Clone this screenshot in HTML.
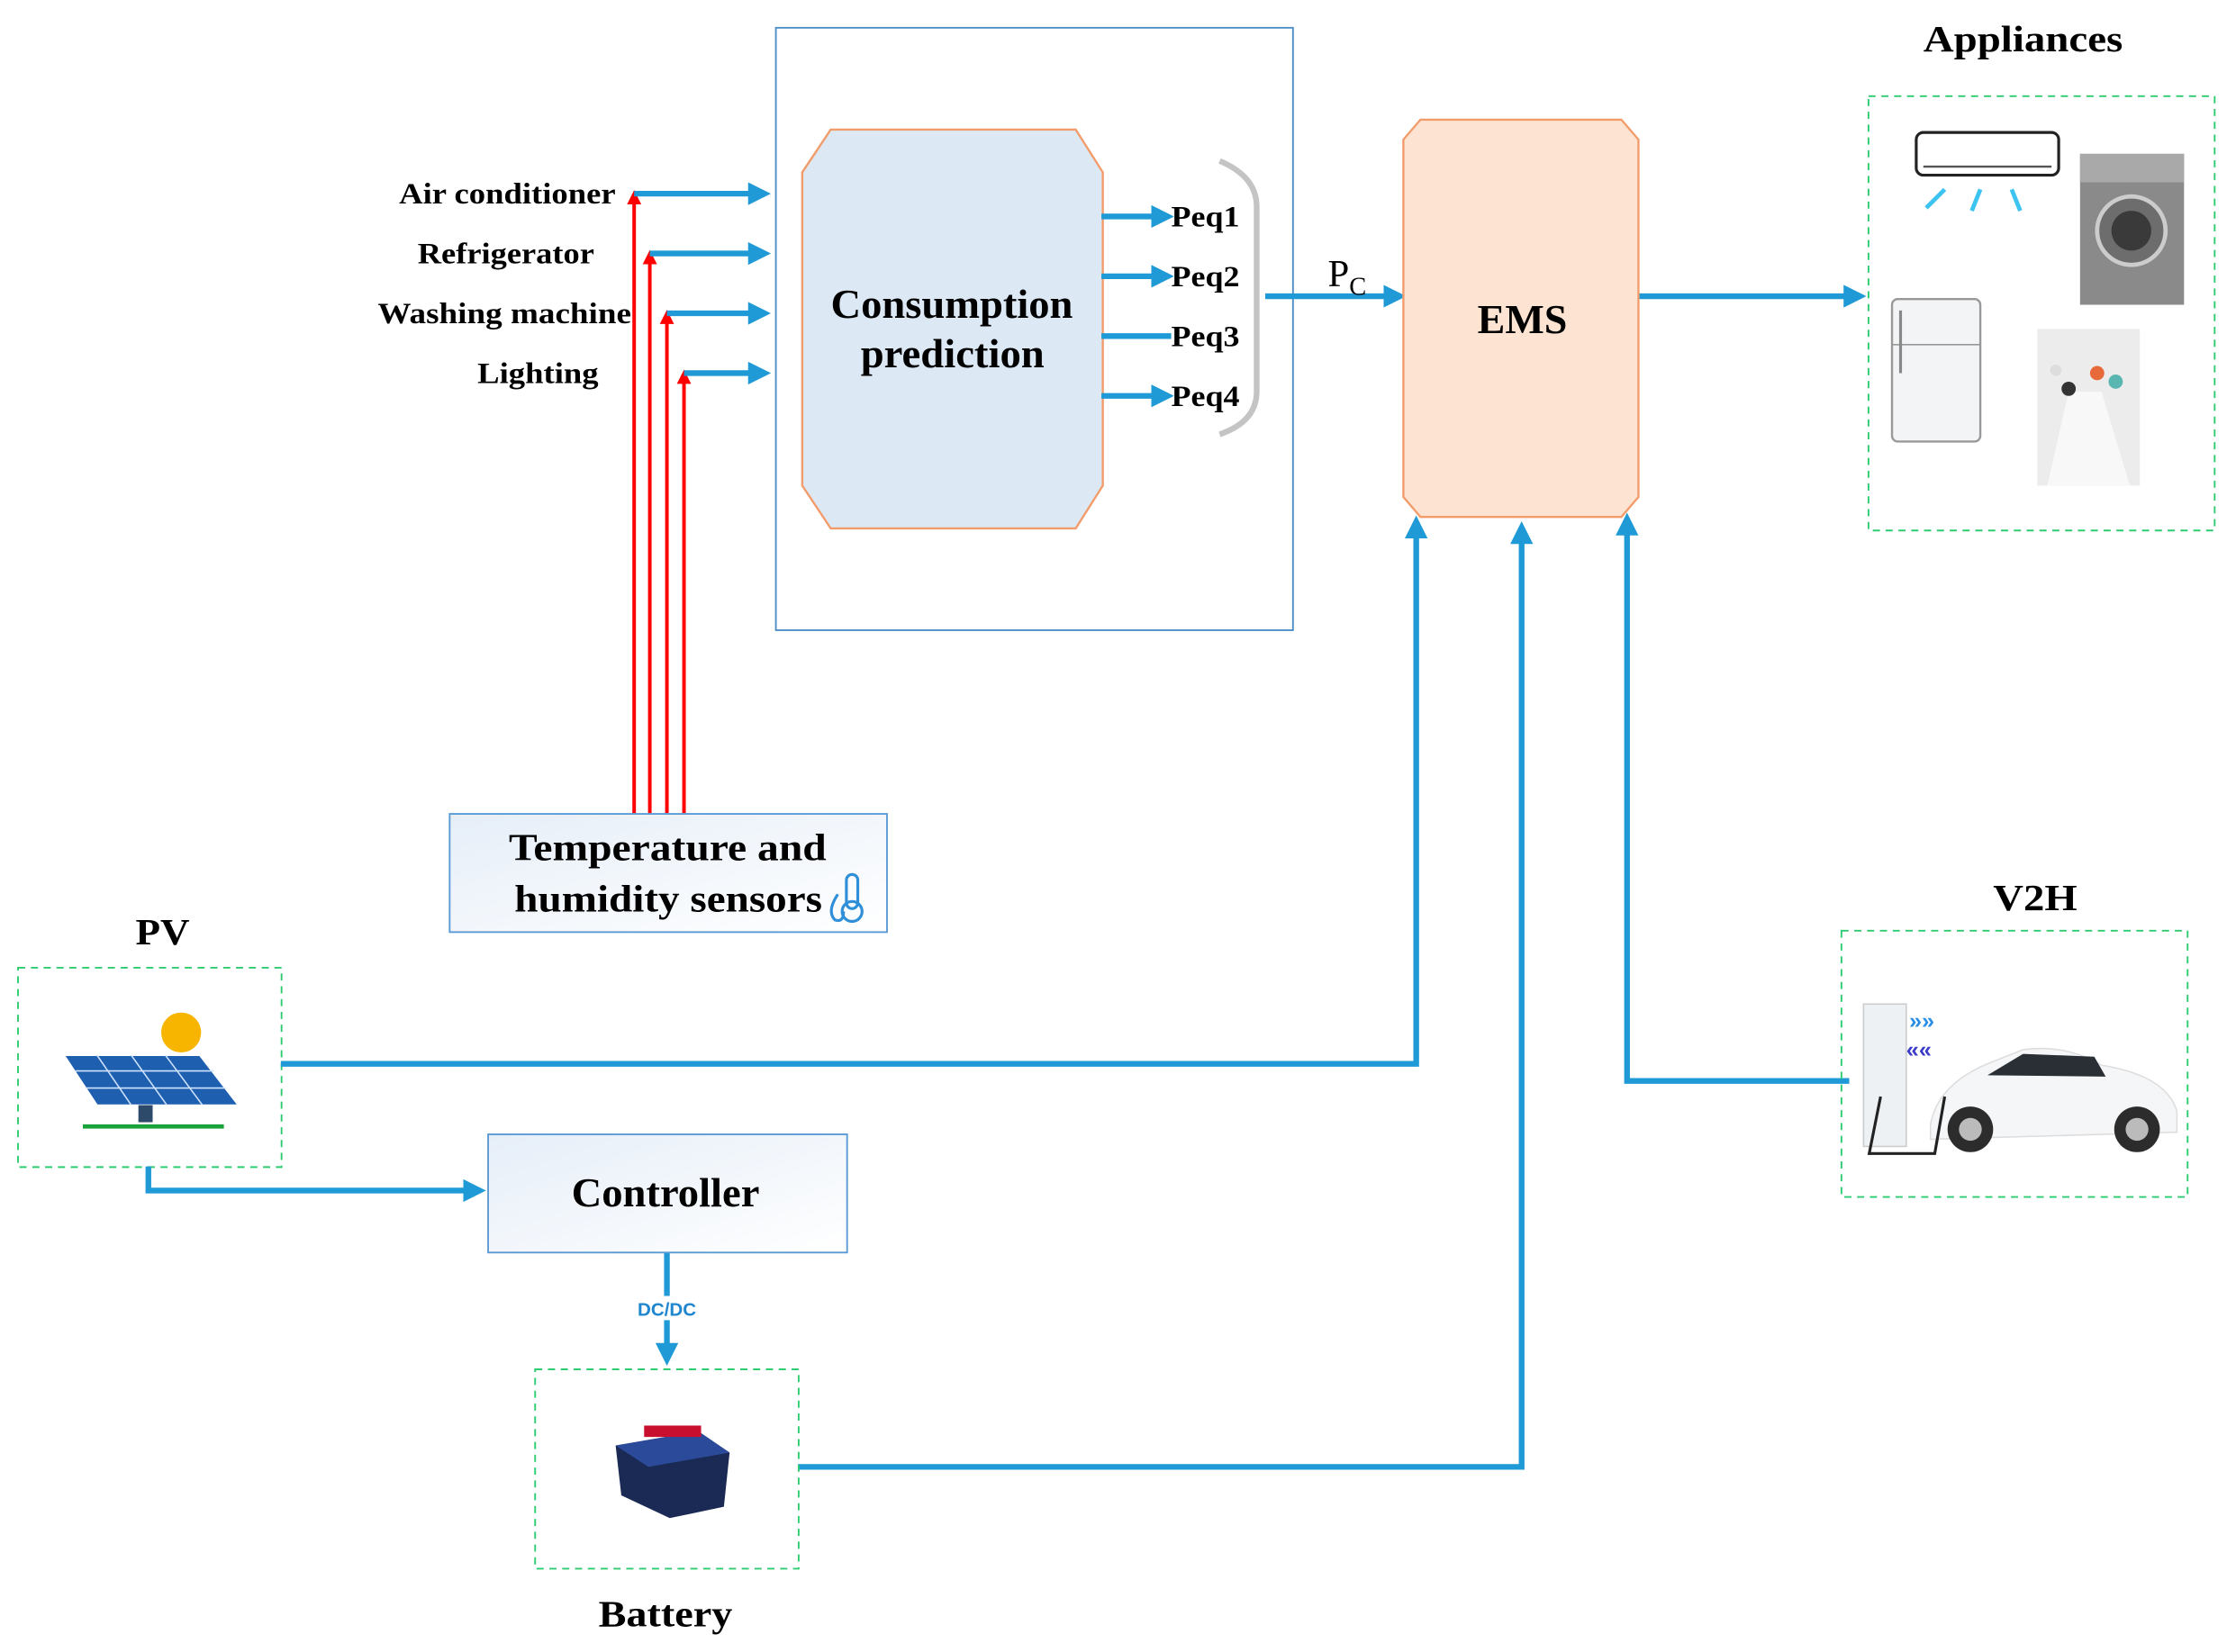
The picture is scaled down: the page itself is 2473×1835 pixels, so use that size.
<!DOCTYPE html>
<html><head><meta charset="utf-8"><style>html,body{margin:0;padding:0;background:#fff}svg{display:block}</style></head>
<body>
<svg width="2473" height="1835" viewBox="0 0 1563 1160" xmlns="http://www.w3.org/2000/svg" font-family="Liberation Serif, serif" font-weight="bold">
<defs>
<marker id="bh" markerWidth="4" markerHeight="4" refX="3" refY="2" orient="auto" markerUnits="strokeWidth"><path d="M0,0 L4,2 L0,4 Z" fill="#1f9ad6"/></marker>
<marker id="rh" markerWidth="4" markerHeight="4" refX="3" refY="2" orient="auto" markerUnits="strokeWidth"><path d="M0,0 L4,2 L0,4 Z" fill="#ff0000"/></marker>
<linearGradient id="gb" x1="0" y1="0" x2="1" y2="1"><stop offset="0" stop-color="#e6eef8"/><stop offset="1" stop-color="#ffffff"/></linearGradient>
</defs>
<rect width="1563" height="1160" fill="#fff"/>
<rect x="544.5" y="19.5" width="363" height="423" fill="#fff" stroke="#4f8fc8" stroke-width="1.2"/>
<polygon points="583,91 755,91 774,121 774,341 755,371 583,371 563,341 563,121" fill="#dce9f5" stroke="#f39c6b" stroke-width="1.5"/>
<text x="583" y="223" font-size="29" textLength="170" lengthAdjust="spacingAndGlyphs">Consumption</text>
<text x="604" y="258" font-size="29" textLength="129" lengthAdjust="spacingAndGlyphs">prediction</text>
<g font-size="21">
<text x="280" y="143" textLength="152" lengthAdjust="spacingAndGlyphs">Air conditioner</text>
<text x="293" y="185" textLength="124" lengthAdjust="spacingAndGlyphs">Refrigerator</text>
<text x="265" y="227" textLength="178" lengthAdjust="spacingAndGlyphs">Washing machine</text>
<text x="335" y="269" textLength="85" lengthAdjust="spacingAndGlyphs">Lighting</text>
</g>
<g stroke="#ff0000" stroke-width="2.5" fill="none" marker-end="url(#rh)">
<line x1="445" y1="571" x2="445" y2="136"/>
<line x1="456" y1="571" x2="456" y2="178"/>
<line x1="468" y1="571" x2="468" y2="220"/>
<line x1="480" y1="571" x2="480" y2="262"/>
</g>
<g stroke="#1f9ad6" stroke-width="4" fill="none" marker-end="url(#bh)">
<line x1="445" y1="136" x2="537" y2="136"/>
<line x1="456" y1="178" x2="537" y2="178"/>
<line x1="468" y1="220" x2="537" y2="220"/>
<line x1="480" y1="262" x2="537" y2="262"/>
<line x1="773" y1="152" x2="820" y2="152"/>
<line x1="773" y1="194" x2="820" y2="194"/>
<line x1="773" y1="278" x2="820" y2="278"/>
<line x1="888" y1="208" x2="983" y2="208"/>
<line x1="1150" y1="208" x2="1306" y2="208"/>
</g>
<line x1="773" y1="236" x2="822" y2="236" stroke="#1f9ad6" stroke-width="4"/>
<g font-size="21">
<text x="822" y="159" textLength="48" lengthAdjust="spacingAndGlyphs">Peq1</text>
<text x="822" y="201" textLength="48" lengthAdjust="spacingAndGlyphs">Peq2</text>
<text x="822" y="243" textLength="48" lengthAdjust="spacingAndGlyphs">Peq3</text>
<text x="822" y="285" textLength="48" lengthAdjust="spacingAndGlyphs">Peq4</text>
</g>
<path d="M856,113 Q882,124 882,145 L882,275 Q882,296 856,305" fill="none" stroke="#c4c4c4" stroke-width="4"/>
<text x="932" y="201" font-size="27" font-weight="normal">P<tspan font-size="18" dy="6">C</tspan></text>
<polygon points="997,84 1138,84 1150,98 1150,349 1138,363 997,363 985,349 985,98" fill="#fde4d2" stroke="#f39c6b" stroke-width="1.5"/>
<text x="1037" y="234" font-size="29" textLength="63" lengthAdjust="spacingAndGlyphs">EMS</text>
<text x="1350" y="36" font-size="26" textLength="140" lengthAdjust="spacingAndGlyphs">Appliances</text>
<rect x="1311.5" y="67.5" width="243" height="305" fill="none" stroke="#2ecc71" stroke-width="1.2" stroke-dasharray="5,4"/>
<rect x="1345" y="93" width="100" height="30" rx="5" fill="#fff" stroke="#222" stroke-width="2"/>
<line x1="1350" y1="117" x2="1440" y2="117" stroke="#555" stroke-width="1.5"/>
<path d="M1365,133 L1352,146 M1390,133 L1384,148 M1412,133 L1418,148" stroke="#3cc3f0" stroke-width="3" fill="none"/>
<rect x="1460" y="108" width="73" height="106" fill="#8a8a8a"/>
<rect x="1460" y="108" width="73" height="20" fill="#a9a9a9"/>
<circle cx="1496" cy="162" r="24" fill="#6d6d6d" stroke="#ccc" stroke-width="3"/>
<circle cx="1496" cy="162" r="14" fill="#3a3a3a"/>
<rect x="1328" y="210" width="62" height="100" rx="4" fill="#f2f4f5" stroke="#999" stroke-width="1.5"/>
<line x1="1328" y1="242" x2="1390" y2="242" stroke="#999"/>
<line x1="1334" y1="218" x2="1334" y2="262" stroke="#888" stroke-width="2"/>
<rect x="1430" y="231" width="72" height="110" fill="#ececec"/>
<polygon points="1437,341 1452,275 1475,275 1495,341" fill="#f8f8f8"/>
<circle cx="1452" cy="273" r="5" fill="#333"/><circle cx="1472" cy="262" r="5" fill="#e86a3a"/><circle cx="1485" cy="268" r="5" fill="#5ab6b0"/><circle cx="1443" cy="260" r="4" fill="#ddd"/>
<rect x="315.5" y="571.5" width="307" height="83" fill="url(#gb)" stroke="#5b9bd5" stroke-width="1.2"/>
<text x="357" y="604" font-size="27" textLength="223" lengthAdjust="spacingAndGlyphs">Temperature and</text>
<text x="361" y="640" font-size="27" textLength="216" lengthAdjust="spacingAndGlyphs">humidity sensors</text>
<g fill="none" stroke="#2f8fd8" stroke-width="2"><rect x="594" y="614" width="8" height="24" rx="4"/><circle cx="598" cy="640" r="7"/><path d="M588,628 Q580,640 586,646 Q592,648 592,640"/></g>
<text x="95" y="663" font-size="26" textLength="38" lengthAdjust="spacingAndGlyphs">PV</text>
<rect x="12.5" y="679.5" width="185" height="140" fill="none" stroke="#2ecc71" stroke-width="1.2" stroke-dasharray="5,4"/>
<circle cx="127" cy="725" r="14" fill="#f7b500"/>
<polygon points="45,741 140,741 167,776 68,776" fill="#1e5fb0" stroke="#fff" stroke-width="1"/>
<g stroke="#cfe3ff" stroke-width="1"><line x1="53" y1="752" x2="150" y2="752"/><line x1="60" y1="764" x2="158" y2="764"/><line x1="68" y1="741" x2="92" y2="776"/><line x1="92" y1="741" x2="117" y2="776"/><line x1="116" y1="741" x2="142" y2="776"/></g>
<rect x="97" y="776" width="10" height="12" fill="#2d4a6a"/>
<line x1="58" y1="791" x2="157" y2="791" stroke="#1aa33a" stroke-width="3"/>
<g stroke="#1f9ad6" stroke-width="4" fill="none" marker-end="url(#bh)">
<polyline points="197,747 994,747 994,366"/>
<polyline points="560,1030 1068,1030 1068,370"/>
<polyline points="1298,759 1142,759 1142,364"/>
<polyline points="104,819 104,836 337,836"/>
<line x1="468" y1="879" x2="468" y2="955"/>
</g>
<rect x="342.5" y="796.5" width="252" height="83" fill="url(#gb)" stroke="#5b9bd5" stroke-width="1.2"/>
<text x="401" y="847" font-size="29" textLength="132" lengthAdjust="spacingAndGlyphs">Controller</text>
<rect x="444" y="910" width="48" height="17" fill="#fff"/>
<text x="468" y="924" font-size="13" font-family="Liberation Sans, sans-serif" fill="#1f86d0" text-anchor="middle">DC/DC</text>
<rect x="375.5" y="961.5" width="185" height="140" fill="none" stroke="#2ecc71" stroke-width="1.2" stroke-dasharray="5,4"/>
<polygon points="432,1015 490,1005 512,1020 508,1058 470,1066 436,1050" fill="#1a2a55"/>
<polygon points="432,1015 490,1005 512,1020 455,1030" fill="#2b4a9a"/>
<rect x="452" y="1001" width="40" height="8" fill="#c8102e"/>
<text x="420" y="1142" font-size="26" textLength="94" lengthAdjust="spacingAndGlyphs">Battery</text>
<text x="1399" y="639" font-size="26" textLength="59" lengthAdjust="spacingAndGlyphs">V2H</text>
<rect x="1292.5" y="653.5" width="243" height="187" fill="none" stroke="#2ecc71" stroke-width="1.2" stroke-dasharray="5,4"/>
<rect x="1308" y="705" width="30" height="100" fill="#eef1f4" stroke="#ccc"/>
<text x="1340" y="722" font-size="16" fill="#2a8ee6" font-family="Liberation Sans, sans-serif">»»</text>
<text x="1338" y="742" font-size="16" fill="#3b3bc8" font-family="Liberation Sans, sans-serif">««</text>
<path d="M1355,790 Q1360,760 1400,745 L1420,737 Q1450,733 1475,748 Q1520,755 1528,780 L1528,795 L1355,800 Z" fill="#f5f6f7" stroke="#ddd"/>
<path d="M1395,755 L1420,740 L1470,742 L1478,756 Z" fill="#2a2f36"/>
<circle cx="1383" cy="793" r="16" fill="#2c2c2c"/><circle cx="1383" cy="793" r="8" fill="#bbb"/>
<circle cx="1500" cy="793" r="16" fill="#2c2c2c"/><circle cx="1500" cy="793" r="8" fill="#bbb"/>
<path d="M1320,770 L1312,810 L1358,810 L1365,770" fill="none" stroke="#222" stroke-width="2"/>
</svg>
</body></html>
